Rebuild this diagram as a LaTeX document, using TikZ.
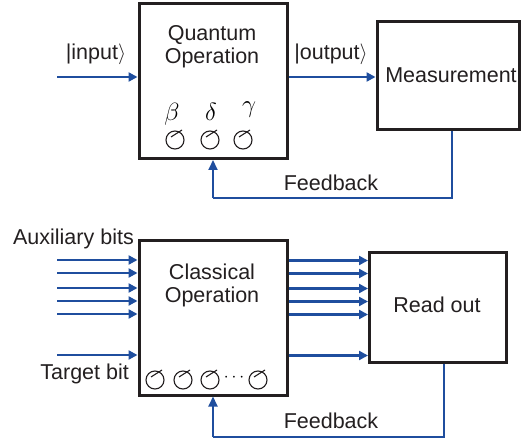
\documentclass[tikz,border=0pt]{standalone}
\usepackage{fontspec}
\setmainfont{Liberation Sans}
\usetikzlibrary{arrows.meta}
\definecolor{fblue}{HTML}{1F4E9E}
\definecolor{boxblack}{HTML}{231F20}
\tikzset{
  box/.style={draw=boxblack, line width=3pt, inner sep=0pt, fill=white},
  lbl/.style={inner sep=0pt, font=\fontsize{21.5}{25}\selectfont, text=boxblack},
  sig/.style={draw=fblue, line width=2.6pt, -{Triangle[length=9pt,width=9pt]}},
  fb/.style={draw=fblue, line width=2pt},
  fbarrow/.style={draw=fblue, line width=2pt, -{Triangle[length=10pt,width=9pt]}},
  dial/.style={draw=boxblack, line width=1.1pt},
  greek/.style={inner sep=0pt, font=\fontsize{24}{28}\selectfont}
}
\newcommand{\dialat}[2]{%
  \draw[dial] (#1,#2) circle (9);
  \draw[dial] (#1-4,#2-3) -- (#1+7,#2-10);
}
\newcommand{\rang}{\ensuremath{\rangle}}
\begin{document}
\begin{tikzpicture}[x=1pt,y=-1pt]
\useasboundingbox (0,0) rectangle (521,443);
% top part
\node[box, minimum width=148, minimum height=155] (qop) at (213,81) {};
\node[box, minimum width=142, minimum height=108] (meas) at (448,76) {};
\node[lbl, align=center] (qoptxt) at (212,47) {Quantum\\[-2pt]Operation};
\node[lbl] (meastxt) at (451,75) {Measurement};
\coordinate (inS) at (57,77);
\draw[sig] (inS) -- (qop.west |- inS);
\node[lbl] (inlbl) at (96,54) {|input\rang};
\draw[sig] (qop.east |- inS) -- (meas.west |- inS);
\node[lbl] (outlbl) at (331,54) {|output\rang};
\coordinate (fbA) at (452,198);
\coordinate (fbB) at (213,198);
\draw[fb] (meas.south -| fbA) -- (fbA) -- (fbB);
\draw[fbarrow] (fbB) -- (qop.south -| fbB);
\node[lbl] (fb1) at (331,183) {Feedback};
\node[greek] (beta) at (172,114) {$\beta$};
\node[greek] (delta) at (211,112) {$\delta$};
\node[greek] (gamma) at (249,110) {$\gamma$};
\dialat{175}{140}
\dialat{210}{140}
\dialat{243}{140}
% bottom part
\node[box, minimum width=148, minimum height=154] (cop) at (213,318) {};
\node[box, minimum width=137, minimum height=109] (rout) at (438,307.5) {};
\node[lbl, align=center] (coptxt) at (212,285) {Classical\\[-2pt]Operation};
\node[lbl] (routtxt) at (437,305) {Read out};
\node[lbl, anchor=east] (aux) at (134,239) {Auxiliary bits};
\node[lbl, anchor=east] (tgt) at (129,374) {Target bit};
\foreach \yy [count=\i] in {260,273,288,301,314,355}{
  \coordinate (a\i) at (57,\yy);
  \draw[sig] (a\i) -- (cop.west |- a\i);
  \coordinate (b\i) at (288,\yy+0.5);
  \draw[sig] (cop.east |- b\i) -- (rout.west |- b\i);
}
\coordinate (fbC) at (444,437);
\coordinate (fbD) at (213,437);
\draw[fb] (rout.south -| fbC) -- (fbC) -- (fbD);
\draw[fbarrow] (fbD) -- (cop.south -| fbD);
\node[lbl] (fb2) at (331,421) {Feedback};
\dialat{155}{380}
\dialat{183}{380}
\dialat{210}{380}
\node[inner sep=0pt, font=\fontsize{18}{20}\selectfont] (dots) at (234,378) {$\cdots$};
\dialat{258}{380}
\end{tikzpicture}
\end{document}
